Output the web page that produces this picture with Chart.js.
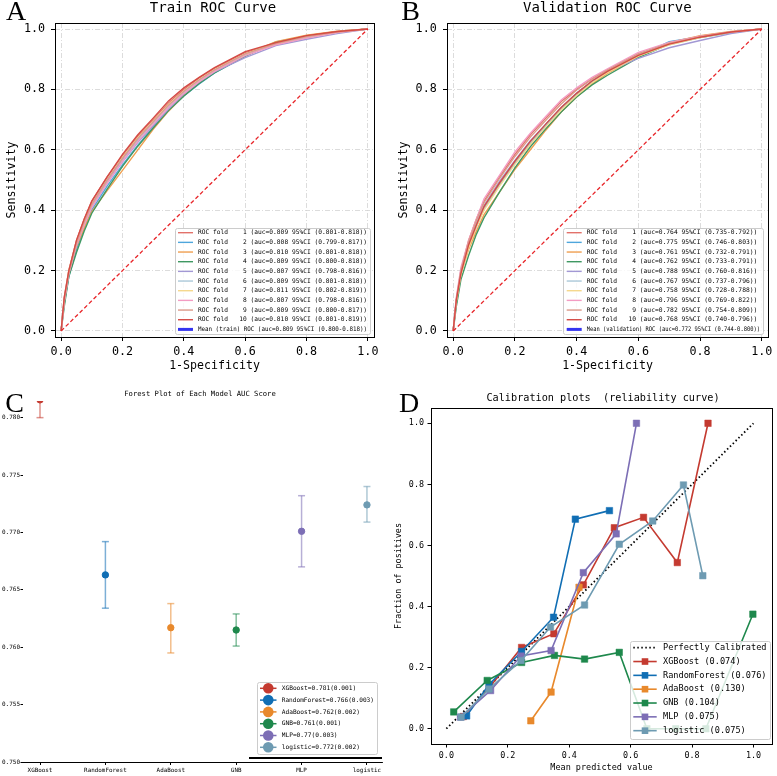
<!DOCTYPE html>
<html lang="en">
<head>
<meta charset="UTF-8">
<title>ROC / Forest / Calibration</title>
<script src="https://cdn.jsdelivr.net/npm/chart.js"></script>
<style>
  body { margin: 0; background: #fff; width: 777px; height: 776px; overflow: hidden; position: relative; }
  canvas { position: absolute; }
</style>
</head>
<body>
<canvas id="cA" width="390" height="385" style="left:0;top:0"></canvas>
<canvas id="cB" width="387" height="385" style="left:390px;top:0"></canvas>
<canvas id="cC" width="390" height="391" style="left:0;top:385px"></canvas>
<canvas id="cD" width="387" height="391" style="left:390px;top:385px"></canvas>
<script>
// ---------- data ----------
const fpr = [0, 0.01, 0.025, 0.05, 0.075, 0.1, 0.15, 0.2, 0.25, 0.3, 0.35, 0.4, 0.45, 0.5, 0.6, 0.7, 0.8, 0.9, 1];
const rocTicks = [0, 0.2, 0.4, 0.6, 0.8, 1.0];

const trainTpr = [
  [0, .11, .20, .30, .37, .43, .51, .58, .645, .70, .755, .80, .838, .87, .922, .953, .977, .991, 1],
  [0, .09, .18, .27, .34, .40, .48, .55, .615, .675, .73, .778, .818, .855, .91, .957, .976, .99, 1],
  [0, .10, .19, .28, .34, .395, .465, .532, .60, .668, .728, .78, .822, .858, .915, .958, .98, .993, 1],
  [0, .08, .18, .26, .33, .39, .47, .545, .612, .672, .73, .778, .82, .855, .91, .955, .975, .99, 1],
  [0, .10, .19, .285, .355, .41, .49, .56, .625, .68, .735, .785, .825, .858, .905, .945, .966, .985, 1],
  [0, .10, .195, .29, .36, .42, .50, .57, .635, .69, .745, .79, .83, .862, .915, .95, .972, .99, 1],
  [0, .10, .20, .29, .36, .42, .50, .575, .64, .695, .75, .795, .833, .866, .918, .952, .975, .99, 1],
  [0, .095, .19, .285, .35, .41, .49, .562, .628, .685, .74, .787, .826, .86, .912, .948, .97, .988, 1],
  [0, .10, .19, .29, .36, .42, .50, .572, .638, .693, .748, .794, .832, .865, .918, .952, .975, .99, 1],
  [0, .11, .20, .30, .37, .43, .51, .585, .65, .705, .762, .805, .84, .872, .925, .955, .978, .992, 1]
];
const trainMeanTpr = [0, .10, .19, .287, .356, .416, .496, .568, .633, .69, .745, .791, .83, .863, .915, .952, .974, .99, 1];
const trainAuc = ['0.809', '0.808', '0.810', '0.809', '0.807', '0.809', '0.811', '0.807', '0.809', '0.810'];
const trainCI = ['0.801-0.818', '0.799-0.817', '0.801-0.818', '0.800-0.818', '0.798-0.816',
                 '0.801-0.818', '0.802-0.819', '0.798-0.816', '0.800-0.817', '0.801-0.819'];
const trainMean = ['0.809', '0.800-0.818'];

const validTpr = [
  [0, .10, .20, .30, .37, .43, .51, .585, .65, .705, .76, .80, .835, .865, .918, .952, .976, .99, 1],
  [0, .09, .19, .28, .345, .405, .485, .555, .62, .68, .735, .782, .825, .858, .91, .958, .975, .99, 1],
  [0, .10, .19, .27, .33, .385, .46, .535, .60, .665, .725, .775, .818, .853, .908, .955, .978, .992, 1],
  [0, .08, .17, .25, .32, .375, .46, .54, .61, .67, .725, .775, .815, .847, .905, .95, .972, .988, 1],
  [0, .10, .195, .285, .355, .415, .495, .565, .63, .685, .74, .788, .828, .86, .903, .938, .962, .985, 1],
  [0, .10, .19, .285, .35, .41, .49, .56, .625, .683, .738, .786, .827, .86, .912, .948, .972, .99, 1],
  [0, .095, .185, .275, .345, .40, .48, .552, .618, .676, .732, .78, .822, .856, .91, .948, .972, .99, 1],
  [0, .11, .21, .30, .37, .438, .515, .593, .655, .71, .765, .805, .84, .868, .923, .956, .976, .99, 1],
  [0, .105, .20, .295, .365, .425, .505, .578, .642, .698, .752, .798, .834, .864, .918, .952, .975, .99, 1],
  [0, .10, .19, .285, .35, .412, .49, .562, .628, .685, .74, .787, .828, .86, .913, .95, .973, .99, 1]
];
const validMeanTpr = [0, .10, .19, .285, .35, .41, .49, .562, .628, .685, .74, .788, .827, .86, .912, .95, .973, .99, 1];
const validAuc = ['0.764', '0.775', '0.761', '0.762', '0.788', '0.767', '0.758', '0.796', '0.782', '0.768'];
const validCI = ['0.735-0.792', '0.746-0.803', '0.732-0.791', '0.733-0.791', '0.760-0.816',
                 '0.737-0.796', '0.728-0.788', '0.769-0.822', '0.754-0.809', '0.740-0.796'];
const validMean = ['0.772', '0.744-0.800'];

const models = ['XGBoost', 'RandomForest', 'AdaBoost', 'GNB', 'MLP', 'logistic'];
const aucMean = [0.78155, 0.7663, 0.7617, 0.7615, 0.7701, 0.7724];
const aucLow = [0.7800, 0.7634, 0.7595, 0.7601, 0.7670, 0.7709];
const aucHigh = [0.7832, 0.7692, 0.7638, 0.7629, 0.7732, 0.7740];
const aucText = ['0.781(0.001)', '0.766(0.003)', '0.762(0.002)', '0.761(0.001)', '0.77(0.003)', '0.772(0.002)'];
const forestTicks = [0.750, 0.755, 0.760, 0.765, 0.770, 0.775, 0.780];

const brier = ['0.074', '0.076', '0.130', '0.104', '0.075', '0.075'];
const calX = [
  [0.055, 0.14, 0.245, 0.350, 0.446, 0.547, 0.642, 0.752, 0.852],
  [0.066, 0.139, 0.245, 0.349, 0.420, 0.531],
  [0.275, 0.341, 0.432],
  [0.024, 0.133, 0.245, 0.352, 0.450, 0.563, 0.653, 0.747, 0.845, 0.998],
  [0.046, 0.144, 0.243, 0.341, 0.446, 0.553, 0.619],
  [0.048, 0.139, 0.243, 0.339, 0.450, 0.563, 0.672, 0.772, 0.835]
];
const calY = [
  [0.040, 0.135, 0.266, 0.311, 0.471, 0.658, 0.692, 0.544, 1.0],
  [0.042, 0.145, 0.253, 0.365, 0.686, 0.714],
  [0.026, 0.120, 0.463],
  [0.055, 0.158, 0.217, 0.240, 0.228, 0.250, 0.0, 0.0, 0.0, 0.375],
  [0.038, 0.125, 0.238, 0.256, 0.511, 0.638, 1.0],
  [0.038, 0.130, 0.223, 0.333, 0.405, 0.604, 0.680, 0.798, 0.501]
];

// ---------- styles ----------
const MONO = '"DejaVu Sans Mono", "Liberation Mono", monospace';
const SERIF = '"Liberation Serif", "DejaVu Serif", serif';
const foldColors = ['#e2716a', '#4ea6dc', '#ef9f50', '#3f9862', '#a298d4',
                    '#abc8d8', '#f5d88e', '#f39cc3', '#dc9a8a', '#d44a45'];
const modelColors = ['#c43a30', '#106eb4', '#e8892c', '#1e884c', '#7c6eb5', '#6e9bb2'];
const modelLight = ['rgba(196,58,48,0.55)', 'rgba(16,110,180,0.55)', 'rgba(232,137,44,0.55)',
                    'rgba(30,136,76,0.55)', 'rgba(124,110,181,0.55)', 'rgba(110,155,178,0.55)'];

Chart.defaults.font.family = MONO;
Chart.defaults.color = '#000';

const pts = (xs, ys) => xs.map((x, i) => ({ x: x, y: ys[i] }));

function axis(o) {
  return {
    type: 'linear', min: o.min, max: o.max,
    afterFit(s) { if (s.isHorizontal()) s.height = o.size; else s.width = o.size; },
    afterBuildTicks(s) { s.ticks = o.ticks.map(v => ({ value: v })); },
    ticks: { autoSkip: false, maxRotation: 0, padding: o.pad, color: '#000',
             font: { family: MONO, size: o.font }, callback: o.fmt },
    grid: { drawOnChartArea: !!o.grid, color: '#d3d3d3', lineWidth: 0.8, tickLength: o.tick,
            tickColor: '#000', tickWidth: 1, tickBorderDash: [] },
    border: { display: !!o.border, color: '#000', width: 1, dash: o.grid ? [5, 2, 1, 2] : [] },
    title: { display: !!o.title, text: o.title || '', color: '#000',
             font: { family: MONO, size: o.tfont || 10 }, padding: o.tpad || 0 }
  };
}

function makeFrame() {
  return {
    id: 'frame',
    afterDatasetsDraw(chart) {
      const a = chart.chartArea, ctx = chart.ctx;
      ctx.save();
      ctx.strokeStyle = '#000';
      ctx.lineWidth = 1;
      ctx.strokeRect(Math.round(a.left) + 0.5, Math.round(a.top) + 0.5,
                     Math.round(a.right - a.left), Math.round(a.bottom - a.top));
      ctx.restore();
    }
  };
}

function makeNotes(texts, lines) {
  return {
    id: 'notes',
    afterDraw(chart) {
      const ctx = chart.ctx;
      ctx.save();
      (lines || []).forEach(l => {
        ctx.strokeStyle = '#000';
        ctx.lineWidth = l[4];
        ctx.beginPath(); ctx.moveTo(l[0], l[1]); ctx.lineTo(l[2], l[3]); ctx.stroke();
      });
      texts.forEach(t => {
        ctx.font = t.font;
        ctx.fillStyle = '#000';
        ctx.textAlign = 'center';
        ctx.textBaseline = t.base || 'middle';
        ctx.fillText(t.text, t.x, t.y);
      });
      ctx.restore();
    }
  };
}

function makeLegend(o) {
  return {
    id: 'boxLegend',
    afterDraw(chart) {
      const ctx = chart.ctx;
      const [bx, by, bw, bh] = o.box;
      ctx.save();
      ctx.fillStyle = 'rgba(255,255,255,0.82)';
      ctx.strokeStyle = '#cccccc';
      ctx.lineWidth = 1;
      ctx.beginPath();
      if (ctx.roundRect) ctx.roundRect(bx + 0.5, by + 0.5, bw, bh, 2);
      else ctx.rect(bx + 0.5, by + 0.5, bw, bh);
      ctx.fill();
      ctx.stroke();
      ctx.font = o.font;
      ctx.textBaseline = 'middle';
      ctx.textAlign = 'left';
      let row = 0;
      chart.data.datasets.forEach(ds => {
        if (!ds.label) return;
        const y = o.y0 + row * o.dy;
        row++;
        ctx.save();
        ctx.strokeStyle = ds.legendLine || ds.borderColor;
        ctx.lineWidth = ds.legendWidth || ds.borderWidth;
        ctx.setLineDash(ds.borderDash || []);
        ctx.beginPath(); ctx.moveTo(o.x0, y); ctx.lineTo(o.x1, y); ctx.stroke();
        ctx.restore();
        if (o.marker && ds.pointRadius !== 0) {
          const m = (o.x0 + o.x1) / 2, r = o.r;
          ctx.fillStyle = ds.legendFill || ds.borderColor;
          ctx.beginPath();
          if (o.marker === 'rect') ctx.rect(m - r, y - r, 2 * r, 2 * r);
          else ctx.arc(m, y, r, 0, Math.PI * 2);
          ctx.fill();
        }
        ctx.fillStyle = '#000';
        ctx.fillText(ds.label, o.tx, y, bx + bw - o.tx - 3);
      });
      ctx.restore();
    }
  };
}

// ---------- A / B: ROC curves ----------
function rocChart(id, tpr, meanTpr, auc, ci, mean, meanName, L) {
  const datasets = tpr.map((row, i) => ({
    label: 'ROC fold ' + String(i + 1).padStart(4) + ' (auc=' + auc[i] + ' 95%CI (' + ci[i] + '))',
    data: pts(fpr, row), borderColor: foldColors[i], borderWidth: 1.4, order: 20 - i
  }));
  datasets.push({
    label: 'Mean (' + meanName + ') ROC (auc=' + mean[0] + ' 95%CI (' + mean[1] + '))',
    data: pts(fpr, meanTpr), borderColor: '#3434f0', borderWidth: 1, legendWidth: 3, order: 30
  });
  datasets.push({
    data: pts([0, 1], [0, 1]), borderColor: '#e8262a', borderWidth: 1.3, borderDash: [4, 2.5], order: 0
  });
  const fmt = v => v.toFixed(1);
  new Chart(document.getElementById(id), {
    type: 'line',
    data: { datasets: datasets },
    options: {
      responsive: false, animation: false, events: [],
      layout: { padding: { top: 23, right: L.right, left: 0, bottom: 0 } },
      elements: { point: { radius: 0 }, line: { tension: 0, fill: false } },
      scales: {
        x: axis({ min: -0.02, max: 1.02, ticks: rocTicks, size: 48, font: 11.7, pad: 4, tick: 4, grid: true,
                  fmt: fmt, title: '1-Specificity', tfont: 11.6, tpad: { top: 0, bottom: 12 } }),
        y: axis({ min: -0.02, max: 1.02, ticks: rocTicks, size: L.yw, font: 11.7, pad: L.ypad, tick: 4, grid: true,
                  fmt: fmt, title: 'Sensitivity', tfont: 11.6, tpad: { top: L.ytp, bottom: 0 } })
      },
      plugins: { legend: { display: false }, tooltip: { enabled: false } }
    },
    plugins: [
      makeFrame(),
      makeLegend({ box: L.box, y0: 232.7, dy: 9.67, x0: L.lx0, x1: L.lx0 + 15, tx: L.lx0 + 20,
                   font: '6.3px ' + MONO }),
      makeNotes([
        { text: L.letter, x: L.letterX, y: 20, font: '28px ' + SERIF, base: 'alphabetic' },
        { text: L.title, x: L.titleX, y: 8.5, font: '14px ' + MONO }
      ])
    ]
  });
}

rocChart('cA', trainTpr, trainMeanTpr, trainAuc, trainCI, trainMean, 'train',
  { right: 16, yw: 55, ypad: 6, ytp: 5, box: [175, 228, 195, 106], lx0: 178,
    letter: 'A', letterX: 16, title: 'Train ROC Curve', titleX: 213 });
rocChart('cB', validTpr, validMeanTpr, validAuc, validCI, validMean, 'validation',
  { right: 9, yw: 57, ypad: 6.3, ytp: 7, box: [173, 228, 200, 106], lx0: 176.7,
    letter: 'B', letterX: 20.5, title: 'Validation ROC Curve', titleX: 217.3 });

// ---------- C: forest plot ----------
new Chart(document.getElementById('cC'), {
  type: 'line',
  data: {
    datasets: models.map((m, i) => ({
      label: m + '=' + aucText[i],
      data: pts([i, i, i], [aucLow[i], aucMean[i], aucHigh[i]]),
      borderColor: modelLight[i], borderWidth: 1.5,
      pointStyle: ['line', 'circle', 'line'], pointRadius: [3.5, 3.2, 3.5],
      pointBorderColor: [modelLight[i], modelColors[i], modelLight[i]],
      pointBorderWidth: [1.5, 1, 1.5], pointBackgroundColor: modelColors[i],
      legendLine: modelColors[i], legendWidth: 1.5, legendFill: modelColors[i]
    }))
  },
  options: {
    responsive: false, animation: false, events: [],
    layout: { padding: { top: 16, right: 8, left: 0, bottom: 0 } },
    elements: { line: { tension: 0, fill: false } },
    scales: {
      x: axis({ min: -0.26, max: 5.23, ticks: [0, 1, 2, 3, 4, 5], size: 14, font: 5.9, pad: 2, tick: 3,
                border: true, fmt: v => models[Math.round(v)] }),
      y: axis({ min: 0.750, max: 0.78145, ticks: forestTicks, size: 23, font: 6, pad: 0.5, tick: 2.5,
                fmt: v => v.toFixed(3) })
    },
    plugins: { legend: { display: false }, tooltip: { enabled: false } }
  },
  plugins: [
    makeLegend({ box: [257, 297, 120, 72], y0: 303.3, dy: 11.8, x0: 260, x1: 276.5, tx: 281.7,
                 font: '6.2px ' + MONO, marker: 'circle', r: 5.3 }),
    makeNotes([
      { text: 'C', x: 14.5, y: 26.5, font: '28px ' + SERIF, base: 'alphabetic' },
      { text: 'Forest Plot of Each Model AUC Score', x: 200, y: 9, font: '7.2px ' + MONO }
    ], [[249, 373, 382, 373, 2]])
  ]
});

// ---------- D: calibration curves ----------
const calSets = [{
  label: 'Perfectly Calibrated', data: pts([0, 1], [0, 1]), borderColor: '#000', borderWidth: 1.8,
  borderDash: [1.5, 2.5], pointRadius: 0, order: 7
}];
models.forEach((m, i) => calSets.push({
  label: m + ' (' + brier[i] + ')', data: pts(calX[i], calY[i]),
  borderColor: modelColors[i], borderWidth: 1.6, pointStyle: 'rect', pointRadius: 4.6,
  pointBackgroundColor: modelColors[i], pointBorderColor: modelColors[i], pointBorderWidth: 0.5,
  order: 6 - i
}));

new Chart(document.getElementById('cD'), {
  type: 'line',
  data: { datasets: calSets },
  options: {
    responsive: false, animation: false, events: [],
    layout: { padding: { top: 23, right: 1, left: 0, bottom: 0 } },
    elements: { line: { tension: 0, fill: false } },
    scales: {
      x: axis({ min: -0.05, max: 1.06, ticks: rocTicks, size: 32, font: 8.4, pad: 3, tick: 3.5,
                fmt: v => v.toFixed(1), title: 'Mean predicted value', tfont: 8.5, tpad: { top: 0, bottom: 3 } }),
      y: axis({ min: -0.05, max: 1.05, ticks: rocTicks, size: 41, font: 8.4, pad: 3.5, tick: 3.5,
                fmt: v => v.toFixed(1), title: 'Fraction of positives', tfont: 8.4, tpad: { top: 4, bottom: 0 } })
    },
    plugins: { legend: { display: false }, tooltip: { enabled: false } }
  },
  plugins: [
    makeFrame(),
    makeLegend({ box: [240, 256, 140, 98], y0: 262.7, dy: 13.83, x0: 243.3, x1: 266.7, tx: 273,
                 font: '8.6px ' + MONO, marker: 'rect', r: 3.3 }),
    makeNotes([
      { text: 'D', x: 19, y: 26.7, font: '28px ' + SERIF, base: 'alphabetic' },
      { text: 'Calibration plots  (reliability curve)', x: 213, y: 13, font: '10.2px ' + MONO }
    ])
  ]
});
</script>
</body>
</html>
